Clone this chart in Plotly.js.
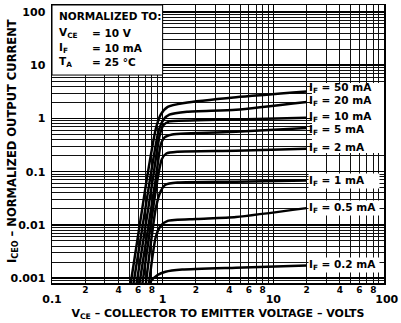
<!DOCTYPE html>
<html><head><meta charset="utf-8">
<script src="https://cdn.plot.ly/plotly-3.0.1.min.js"></script>
<style>html,body{margin:0;padding:0;background:#fff}#chart{width:401px;height:323px}</style>
</head><body><div id="chart"></div>
<script>
// I_F values (mA) for each curve
const ifValues = ['50', '20', '10', '5', '2', '1', '0.5', '0.2'];

// V_CE (volts) and normalized I_CEO for each I_F curve
const vce_50  = [0.50, 0.72, 0.867, 0.96, 1.11, 1.57, 4.6, 20];
const ic_50   = [0.00055, 0.074, 0.64, 1.18, 1.65, 1.95, 2.5, 3.2];
const vce_20  = [0.53, 0.77, 0.92, 1.02, 1.15, 1.66, 4.6, 20];
const ic_20   = [0.00055, 0.074, 0.59, 0.96, 1.18, 1.34, 1.46, 2.04];
const vce_10  = [0.565, 0.816, 0.94, 1.02, 1.15, 2.04, 4.6, 20];
const ic_10   = [0.00055, 0.074, 0.48, 0.75, 0.88, 0.92, 0.96, 1.03];
const vce_5   = [0.60, 0.867, 0.96, 1.04, 1.22, 4.6, 20];
const ic_5    = [0.00055, 0.074, 0.32, 0.44, 0.50, 0.56, 0.66];
const vce_2   = [0.64, 0.90, 0.98, 1.08, 1.36, 4.6, 20];
const ic_2    = [0.00055, 0.074, 0.17, 0.22, 0.237, 0.247, 0.27];
const vce_1   = [0.69, 0.867, 0.96, 1.06, 1.36, 4.6, 20];
const ic_1    = [0.00055, 0.0207, 0.043, 0.057, 0.0625, 0.065, 0.068];
const vce_05  = [0.736, 0.867, 0.96, 1.11, 2.04, 4.6, 20];
const ic_05   = [0.00055, 0.006, 0.0096, 0.0119, 0.0129, 0.0141, 0.0207];
const vce_02  = [0.71, 0.78, 0.90, 1.06, 1.5, 4.6, 20];
const ic_02   = [0.0005, 0.00087, 0.00115, 0.00132, 0.00145, 0.00158, 0.00174];

// tick labels
const xDecadeVals = [0.1, 1, 10, 100];
const xDecadeText = ['0.1', '1', '10', '\u2002100'];
const xDigitVals  = [0.2, 0.4, 0.6, 0.8, 2, 4, 6, 8, 20, 40, 60, 80];
const xDigitText  = ['2', '4', '6', '8', '2', '4', '6', '8', '2', '4', '6', '8'];
const yDecadeVals = [0.001, 0.01, 0.1, 1, 10, 100];
const yDecadeText = ['0.001', '0.01', '0.1', '1', '10', '100'];

const series = [
  {v: vce_50, i: ic_50}, {v: vce_20, i: ic_20}, {v: vce_10, i: ic_10}, {v: vce_5, i: ic_5},
  {v: vce_2, i: ic_2}, {v: vce_1, i: ic_1}, {v: vce_05, i: ic_05}, {v: vce_02, i: ic_02}
];
// label nudges (px) so the stacked labels sit as in the original
const labelShift = [4, 1, 1, -2, 1, 0, 0, 0];

function minorVals(lo, hi) {
  const out = [];
  for (let d = lo; d < hi; d++) for (let k = 2; k <= 9; k++) out.push(k * Math.pow(10, d));
  return out;
}

const FONT = 'DejaVu Sans';
const traces = series.map(s => ({
  type: 'scatter', mode: 'lines', x: s.v, y: s.i,
  line: {color: '#000', width: 2.5, shape: 'spline', smoothing: 0.6},
  hoverinfo: 'skip', showlegend: false
}));
traces.push({type: 'scatter', mode: 'lines', x: [], y: [], xaxis: 'x2', yaxis: 'y', showlegend: false, hoverinfo: 'skip'});

const annotations = [];
// curve labels
series.forEach((s, k) => {
  annotations.push({
    xref: 'x', yref: 'y', x: Math.log10(s.v[s.v.length - 1]), y: Math.log10(s.i[s.i.length - 1]),
    xanchor: 'left', yanchor: 'middle', xshift: 1, yshift: labelShift[k], align: 'left',
    text: 'I<sub>F</sub> = ' + ifValues[k] + ' mA', showarrow: false,
    bgcolor: k >= 5 ? '#fff' : 'rgba(0,0,0,0)', width: 70, borderpad: 0,
    font: {family: FONT, size: 10.5, color: '#000', weight: 'bold'}
  });
});
// normalization box text
const boxLines = [
  {t: 'NORMALIZED TO:', x: 5, y: 11},
  {t: 'V<sub>CE</sub>', x: 5, y: 28},
  {t: '= 10 V', x: 38, y: 28},
  {t: 'I<sub>F</sub>', x: 5, y: 43},
  {t: '= 10 mA', x: 38, y: 43},
  {t: 'T<sub>A</sub>', x: 5, y: 57},
  {t: '= 25 °C', x: 38, y: 57}
];
boxLines.forEach(b => annotations.push({
  xref: 'x domain', yref: 'y domain', x: 0, y: 1, xshift: b.x, yshift: -b.y,
  xanchor: 'left', yanchor: 'middle', text: b.t, showarrow: false,
  font: {family: FONT, size: 10.5, color: '#000', weight: 'bold'}
}));
// y axis title
annotations.push({
  xref: 'paper', yref: 'paper', x: 0, y: 0.511, xshift: -39, textangle: -90,
  xanchor: 'center', yanchor: 'middle', showarrow: false,
  text: 'I<sub>CEO</sub> – NORMALIZED OUTPUT CURRENT',
  font: {family: FONT, size: 11.5, color: '#000', weight: 'bold'}
});

const layout = {
  width: 401, height: 323,
  margin: {l: 52, r: 17, t: 5, b: 40},
  paper_bgcolor: '#fff', plot_bgcolor: '#fff',
  font: {family: FONT, size: 11, color: '#000', weight: 'bold'},
  showlegend: false,
  xaxis: {
    type: 'log', range: [-1, 2], tickmode: 'array', tickvals: xDecadeVals, ticktext: xDecadeText,
    ticks: '', ticklabelstandoff: 5, ticklabeloverflow: 'allow',
    showline: true, mirror: true, linecolor: '#000', linewidth: 1.5,
    showgrid: true, gridcolor: '#000', gridwidth: 1.5, zeroline: false,
    tickfont: {family: FONT, size: 11, color: '#000', weight: 'bold'},
    minor: {tickmode: 'array', tickvals: minorVals(-1, 2), showgrid: true, gridcolor: '#111', gridwidth: 1, ticks: ''},
    title: {text: 'V<sub>CE</sub> – COLLECTOR TO EMITTER VOLTAGE – VOLTS', standoff: 4,
            font: {family: FONT, size: 11, color: '#000', weight: 'bold'}}
  },
  xaxis2: {
    type: 'log', range: [-1, 2], overlaying: 'x', anchor: 'y', side: 'bottom',
    tickmode: 'array', tickvals: xDigitVals, ticktext: xDigitText, ticks: '', ticklabelstandoff: 0,
    showgrid: false, showline: false, zeroline: false,
    tickfont: {family: FONT, size: 9, color: '#000', weight: 'bold'}
  },
  yaxis: {
    type: 'log', range: [-3.09, 2.13], tickmode: 'array', tickvals: yDecadeVals, ticktext: yDecadeText,
    ticks: '', ticklabelstandoff: 3, showline: true, mirror: true, linecolor: '#000', linewidth: 1.5,
    showgrid: true, gridcolor: '#000', gridwidth: 1.5, zeroline: false,
    tickfont: {family: FONT, size: 11, color: '#000', weight: 'bold'},
    minor: {tickmode: 'array', tickvals: minorVals(-4, 2), showgrid: true, gridcolor: '#111', gridwidth: 1, ticks: ''}
  },
  shapes: [
    {type: 'rect', xref: 'x domain', yref: 'y domain', x0: 0, x1: 0.3333, y0: 0.748, y1: 1,
     fillcolor: '#fff', line: {color: '#000', width: 1}, layer: 'above'},
    {type: 'rect', xref: 'x domain', yref: 'y domain', x0: 0.783, x1: 1, y0: 0.4676, y1: 0.7194,
     fillcolor: '#fff', line: {width: 0}, layer: 'above'}
  ],
  annotations: annotations
};

Plotly.newPlot('chart', traces, layout, {staticPlot: true, displayModeBar: false});
</script>
</body></html>
